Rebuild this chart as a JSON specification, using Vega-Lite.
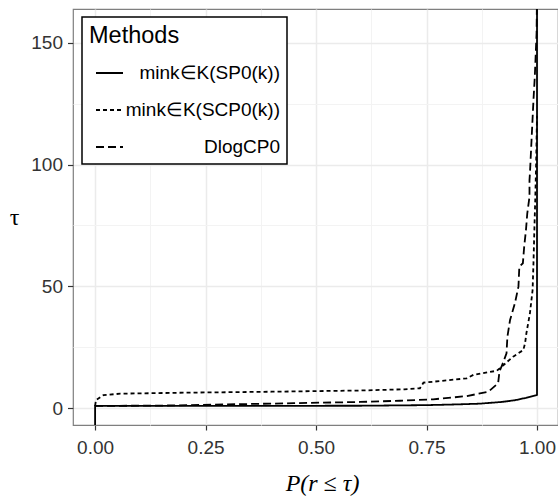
{
  "$schema": "https://vega.github.io/schema/vega-lite/v6.json",
  "autosize": {"type": "none"},
  "padding": {"left": 73, "top": 9, "right": 0, "bottom": 73},
  "width": 485,
  "height": 416,
  "background": "white",
  "config": {"view": {"stroke": "#7f7f7f", "strokeWidth": 1.2}, "font": "Liberation Sans"},
  "data": {"values": [
    {"m": "mink∈K(SP0(k))", "i": 1, "p": 0, "tau": -12},
    {"m": "mink∈K(SP0(k))", "i": 2, "p": 0, "tau": 1},
    {"m": "mink∈K(SP0(k))", "i": 3, "p": 0.3, "tau": 1},
    {"m": "mink∈K(SP0(k))", "i": 4, "p": 0.6, "tau": 1.05},
    {"m": "mink∈K(SP0(k))", "i": 5, "p": 0.75, "tau": 1.3},
    {"m": "mink∈K(SP0(k))", "i": 6, "p": 0.82, "tau": 1.6},
    {"m": "mink∈K(SP0(k))", "i": 7, "p": 0.87, "tau": 1.9},
    {"m": "mink∈K(SP0(k))", "i": 8, "p": 0.92, "tau": 2.6},
    {"m": "mink∈K(SP0(k))", "i": 9, "p": 0.95, "tau": 3.3},
    {"m": "mink∈K(SP0(k))", "i": 10, "p": 0.975, "tau": 4.3},
    {"m": "mink∈K(SP0(k))", "i": 11, "p": 1.0, "tau": 5.5},
    {"m": "mink∈K(SP0(k))", "i": 12, "p": 1.0, "tau": 170},
    {"m": "mink∈K(SCP0(k))", "i": 1, "p": 0, "tau": 1},
    {"m": "mink∈K(SCP0(k))", "i": 2, "p": 0.002, "tau": 3.4},
    {"m": "mink∈K(SCP0(k))", "i": 3, "p": 0.019, "tau": 5.4},
    {"m": "mink∈K(SCP0(k))", "i": 4, "p": 0.057, "tau": 6.0},
    {"m": "mink∈K(SCP0(k))", "i": 5, "p": 0.2, "tau": 6.4},
    {"m": "mink∈K(SCP0(k))", "i": 6, "p": 0.4, "tau": 6.8},
    {"m": "mink∈K(SCP0(k))", "i": 7, "p": 0.6, "tau": 7.3},
    {"m": "mink∈K(SCP0(k))", "i": 8, "p": 0.7, "tau": 7.8},
    {"m": "mink∈K(SCP0(k))", "i": 9, "p": 0.735, "tau": 8.2},
    {"m": "mink∈K(SCP0(k))", "i": 10, "p": 0.743, "tau": 10.5},
    {"m": "mink∈K(SCP0(k))", "i": 11, "p": 0.841, "tau": 12.3},
    {"m": "mink∈K(SCP0(k))", "i": 12, "p": 0.856, "tau": 13.7},
    {"m": "mink∈K(SCP0(k))", "i": 13, "p": 0.909, "tau": 15.4},
    {"m": "mink∈K(SCP0(k))", "i": 14, "p": 0.916, "tau": 16.4},
    {"m": "mink∈K(SCP0(k))", "i": 15, "p": 0.946, "tau": 21.2},
    {"m": "mink∈K(SCP0(k))", "i": 16, "p": 0.969, "tau": 23.9},
    {"m": "mink∈K(SCP0(k))", "i": 17, "p": 0.973, "tau": 26.7},
    {"m": "mink∈K(SCP0(k))", "i": 18, "p": 0.976, "tau": 30.8},
    {"m": "mink∈K(SCP0(k))", "i": 19, "p": 0.984, "tau": 39},
    {"m": "mink∈K(SCP0(k))", "i": 20, "p": 0.99, "tau": 48.5},
    {"m": "mink∈K(SCP0(k))", "i": 21, "p": 0.992, "tau": 59.5},
    {"m": "mink∈K(SCP0(k))", "i": 22, "p": 0.994, "tau": 73.1},
    {"m": "mink∈K(SCP0(k))", "i": 23, "p": 0.996, "tau": 85.4},
    {"m": "mink∈K(SCP0(k))", "i": 24, "p": 0.998, "tau": 100},
    {"m": "mink∈K(SCP0(k))", "i": 25, "p": 1.0, "tau": 120},
    {"m": "DlogCP0", "i": 1, "p": 0, "tau": 1},
    {"m": "DlogCP0", "i": 2, "p": 0.15, "tau": 1.1},
    {"m": "DlogCP0", "i": 3, "p": 0.3, "tau": 1.6},
    {"m": "DlogCP0", "i": 4, "p": 0.45, "tau": 2.1},
    {"m": "DlogCP0", "i": 5, "p": 0.6, "tau": 2.6},
    {"m": "DlogCP0", "i": 6, "p": 0.69, "tau": 3.1},
    {"m": "DlogCP0", "i": 7, "p": 0.765, "tau": 3.7},
    {"m": "DlogCP0", "i": 8, "p": 0.841, "tau": 5.0},
    {"m": "DlogCP0", "i": 9, "p": 0.89, "tau": 6.8},
    {"m": "DlogCP0", "i": 10, "p": 0.912, "tau": 10.3},
    {"m": "DlogCP0", "i": 11, "p": 0.915, "tau": 15.0},
    {"m": "DlogCP0", "i": 12, "p": 0.924, "tau": 19.1},
    {"m": "DlogCP0", "i": 13, "p": 0.931, "tau": 22.6},
    {"m": "DlogCP0", "i": 14, "p": 0.933, "tau": 29.4},
    {"m": "DlogCP0", "i": 15, "p": 0.939, "tau": 36.2},
    {"m": "DlogCP0", "i": 16, "p": 0.95, "tau": 43.1},
    {"m": "DlogCP0", "i": 17, "p": 0.958, "tau": 49.9},
    {"m": "DlogCP0", "i": 18, "p": 0.96, "tau": 58.1},
    {"m": "DlogCP0", "i": 19, "p": 0.968, "tau": 59.5},
    {"m": "DlogCP0", "i": 20, "p": 0.971, "tau": 66.3},
    {"m": "DlogCP0", "i": 21, "p": 0.975, "tau": 73.1},
    {"m": "DlogCP0", "i": 22, "p": 0.978, "tau": 80.0},
    {"m": "DlogCP0", "i": 23, "p": 0.983, "tau": 86.8},
    {"m": "DlogCP0", "i": 24, "p": 0.983, "tau": 93.6},
    {"m": "DlogCP0", "i": 25, "p": 0.984, "tau": 96.4},
    {"m": "DlogCP0", "i": 26, "p": 0.992, "tau": 126.5},
    {"m": "DlogCP0", "i": 27, "p": 0.995, "tau": 136},
    {"m": "DlogCP0", "i": 28, "p": 0.999, "tau": 153.8},
    {"m": "DlogCP0", "i": 29, "p": 1.0, "tau": 170}
  ]},
  "layer": [
    {
      "mark": {"type": "line", "clip": true, "color": "black", "strokeWidth": 1.8},
      "encoding": {
        "x": {
          "field": "p", "type": "quantitative",
          "scale": {"domain": [-0.05, 1.0475], "nice": false, "zero": false},
          "axis": {
            "orient": "bottom", "values": [0, 0.25, 0.5, 0.75, 1], "format": ".2f",
            "labelFontSize": 19, "labelFont": "Liberation Sans", "labelColor": "#333333", "labelPadding": 8,
            "tickSize": 5, "tickColor": "#333333", "tickWidth": 1.2, "domain": false,
            "grid": true, "gridColor": "#ebebeb", "gridWidth": 1.5,
            "title": "P(r ≤ τ)", "titleFont": "Liberation Serif", "titleFontSize": 24,
            "titleFontStyle": "italic", "titleFontWeight": "normal", "titleColor": "black",
            "titleX": 249, "titleY": 58, "titleBaseline": "middle", "titleAlign": "center"
          }
        },
        "y": {
          "field": "tau", "type": "quantitative",
          "scale": {"domain": [-6.85, 163.8], "nice": false, "zero": false},
          "axis": {
            "orient": "left", "values": [0, 50, 100, 150],
            "labelFontSize": 19, "labelFont": "Liberation Sans", "labelColor": "#333333", "labelPadding": 5,
            "tickSize": 5.5, "tickColor": "#333333", "tickWidth": 1.2, "domain": false,
            "grid": true, "gridColor": "#ebebeb", "gridWidth": 1.5,
            "title": "τ", "titleFont": "Liberation Serif", "titleFontSize": 24, "titleFontWeight": "normal",
            "titleColor": "black", "titleAngle": 0, "titleX": -59, "titleY": 208,
            "titleAlign": "center", "titleBaseline": "middle"
          }
        },
        "strokeDash": {
          "field": "m", "type": "nominal",
          "scale": {"domain": ["mink∈K(SP0(k))", "mink∈K(SCP0(k))", "DlogCP0"], "range": [[1, 0], [4, 3], [8, 4]]},
          "legend": {
            "title": "Methods", "orient": "none", "legendX": 9, "legendY": 8, "direction": "vertical",
            "fillColor": "white", "strokeColor": "black", "padding": 7,
            "titleFontSize": 23.5, "titleFont": "Liberation Sans", "titleFontWeight": "normal", "titleColor": "black",
            "titlePadding": 11, "titleBaseline": "top",
            "labelFontSize": 19, "labelFont": "Liberation Sans", "labelColor": "black",
            "labelAlign": "right", "labelOffset": 156, "labelLimit": 0,
            "symbolType": "stroke", "symbolSize": 729, "symbolStrokeWidth": 1.8, "symbolStrokeColor": "black",
            "symbolOffset": 6, "rowPadding": 12,
            "encode": {"legend": {"update": {"strokeWidth": {"value": 1.5}}}}
          }
        },
        "order": {"field": "i", "type": "quantitative"}
      }
    },
    {
      "mark": {"type": "line", "clip": true, "strokeOpacity": 0},
      "encoding": {
        "x": {
          "field": "p", "type": "quantitative",
          "axis": {
            "orient": "bottom", "values": [0.125, 0.375, 0.625, 0.875], "labels": false, "ticks": false,
            "domain": false, "grid": true, "gridColor": "#f3f3f3", "gridWidth": 1, "title": null
          }
        },
        "y": {
          "field": "tau", "type": "quantitative",
          "axis": {
            "orient": "left", "values": [25, 75, 125], "labels": false, "ticks": false,
            "domain": false, "grid": true, "gridColor": "#f3f3f3", "gridWidth": 1, "title": null
          }
        },
        "detail": {"field": "m", "type": "nominal"},
        "order": {"field": "i", "type": "quantitative"}
      }
    }
  ],
  "resolve": {"axis": {"x": "independent", "y": "independent"}}
}
